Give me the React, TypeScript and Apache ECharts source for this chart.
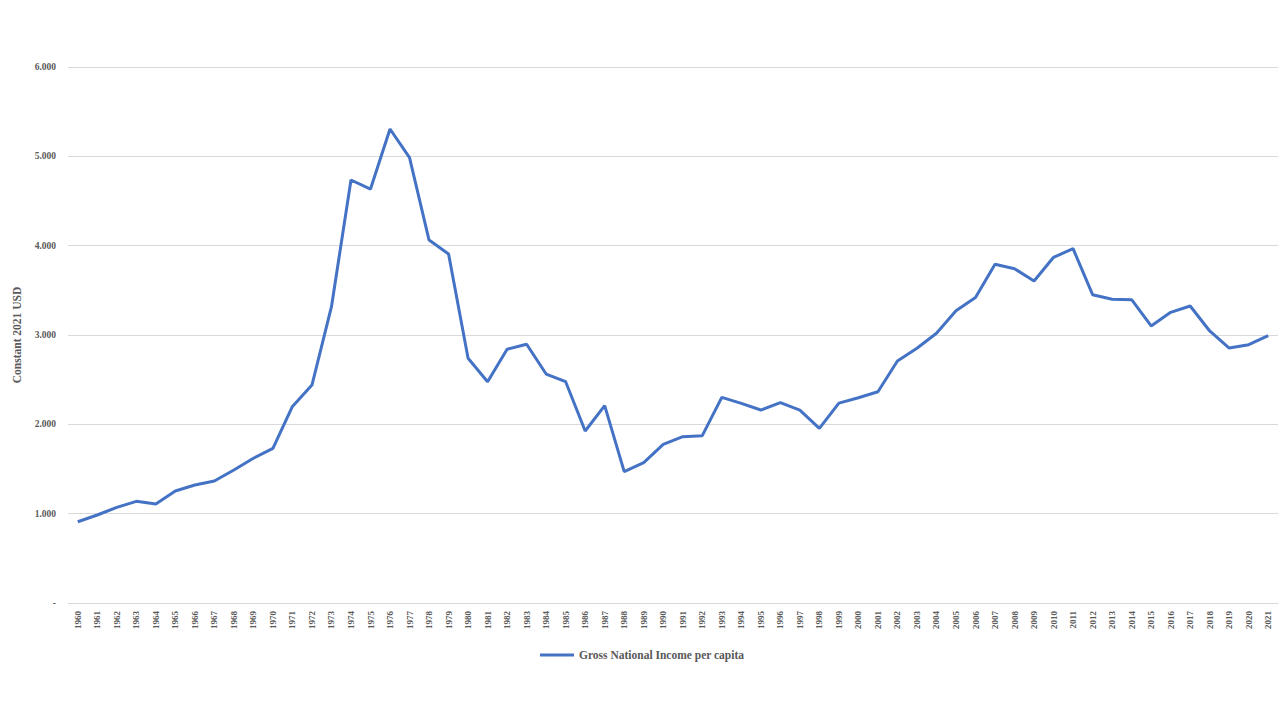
import React, { useEffect, useRef } from "react";
import * as echarts from "echarts";

const years: string[] = [];
for (let y = 1960; y <= 2021; y++) years.push(String(y));

const gniPerCapita: number[] = [
  910, 985, 1071, 1138, 1108, 1254, 1321, 1366, 1489, 1620,
  1731, 2200, 2440, 3317, 4735, 4634, 5306, 4985, 4063, 3907,
  2739, 2477, 2840, 2896, 2563, 2477, 1925, 2209, 1470, 1571,
  1776, 1862, 1873, 2302, 2235, 2160, 2242, 2160, 1955, 2238,
  2298, 2365, 2709, 2851, 3019, 3272, 3421, 3791, 3742, 3604,
  3870, 3966, 3451, 3400, 3395, 3101, 3254, 3325, 3045, 2854,
  2892, 2992,
];

const seriesName = "Gross National Income per capita";
const yAxisTitle = "Constant 2021 USD";

const fontFamily = "'Liberation Serif', 'DejaVu Serif', serif";

export default function App() {
  const ref = useRef<HTMLDivElement>(null);
  useEffect(() => {
    if (!ref.current) return;
    const chart = echarts.init(ref.current, undefined, { renderer: "svg" });
    chart.setOption({
      animation: false,
      backgroundColor: "#ffffff",
      textStyle: { fontFamily },
      grid: { left: 68, right: 4, top: 67, bottom: 118, containLabel: false },
      legend: {
        data: [seriesName],
        left: 540,
        top: 649,
        padding: 0,
        icon: "rect",
        itemWidth: 34,
        itemHeight: 3,
        itemGap: 6,
        textStyle: { fontFamily, fontSize: 11.5, fontWeight: "bold", color: "#595959" },
      },
      xAxis: {
        type: "category",
        data: years,
        boundaryGap: true,
        axisLine: { show: true, lineStyle: { color: "#d9d9d9", width: 1 } },
        axisTick: { show: false },
        axisLabel: {
          rotate: 90,
          interval: 0,
          margin: 8,
          fontSize: 9,
          fontWeight: "bold",
          color: "#595959",
          fontFamily,
        },
      },
      yAxis: {
        type: "value",
        min: 0,
        max: 6000,
        interval: 1000,
        name: yAxisTitle,
        nameLocation: "middle",
        nameGap: 45,
        nameTextStyle: { fontFamily, fontSize: 11.5, fontWeight: "bold", color: "#595959" },
        axisLine: { show: false },
        axisTick: { show: false },
        splitLine: { lineStyle: { color: "#d9d9d9", width: 1 } },
        axisLabel: {
          margin: 12,
          fontSize: 9.5,
          fontWeight: "bold",
          color: "#595959",
          fontFamily,
          formatter: (v: number) =>
            v === 0 ? "-" : Math.round(v).toLocaleString("en-US").replace(/,/g, "."),
        },
      },
      series: [
        {
          name: seriesName,
          type: "line",
          data: gniPerCapita,
          showSymbol: false,
          symbol: "none",
          lineStyle: { color: "#4472c4", width: 3 },
          itemStyle: { color: "#4472c4" },
        },
      ],
    });
    return () => chart.dispose();
  }, []);
  return (
    <div
      ref={ref}
      style={{ position: "fixed", left: 0, top: 0, width: 1282, height: 721 }}
    />
  );
}
